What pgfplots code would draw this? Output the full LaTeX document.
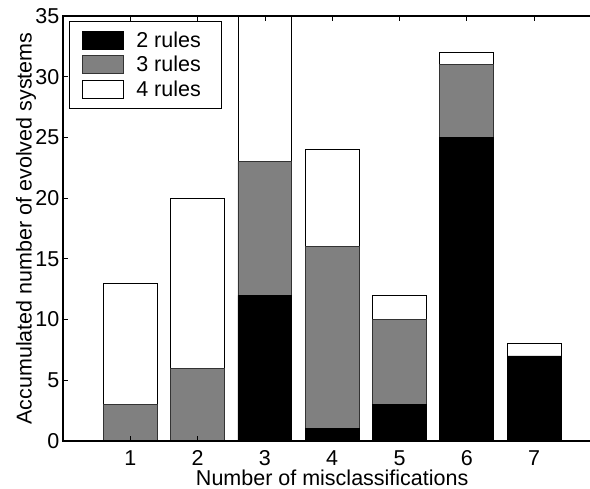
\documentclass[border=0pt]{standalone}
\usepackage{pgfplots}
\pgfplotsset{compat=1.18}
\usepackage{fontspec}
\setmainfont{Liberation Sans}
\begin{document}
\begin{tikzpicture}
\useasboundingbox (0,0) rectangle (590bp,489bp);
\begin{axis}[
  at={(63bp,48bp)}, anchor=south west,
  scale only axis, width=538.4bp, height=425bp,
  xmin=0, xmax=8, ymin=0, ymax=35,
  ybar stacked, bar width=0.8,
  axis on top,
  xtick={1,2,3,4,5,6,7}, ytick={0,5,10,15,20,25,30,35},
  tick align=inside, major tick length=5bp,
  axis line style={line width=1.2bp},
  every tick/.style={black, line width=0.8bp},
  font=\fontsize{21.5bp}{25bp}\selectfont,
  /pgf/number format/assume math mode=true,
  xticklabel style={anchor=base, inner sep=0pt, yshift=-24bp},
  yticklabel style={anchor=east, inner sep=0pt, xshift=-3.5bp},
  xlabel={Number of misclassifications},
  ylabel={Accumulated number of evolved systems},
  every axis x label/.style={at={(axis description cs:0.5,0)}, anchor=base, yshift=-44bp},
  every axis y label/.style={at={(axis description cs:-0.0585,0.5)}, rotate=90, anchor=base},
  legend cell align=left,
  legend style={at={(axis description cs:0,1)}, anchor=north west, xshift=6bp, yshift=-5bp,
    draw=black, line width=1bp, inner xsep=13bp, inner ysep=6.5bp, row sep=0pt,
    /tikz/every odd column/.style={column sep=13bp},
    nodes={inner sep=0pt, text height=19.25bp, text depth=5.25bp,
      font=\fontsize{21.5bp}{25bp}\selectfont}},
  legend image code/.code={\draw[#1, line width=0.8bp] (0bp,-9bp) rectangle (40bp,9bp);},
]
\addplot[fill=black, draw=black, line width=0.8bp] coordinates {(1,0) (2,0) (3,12) (4,1) (5,3) (6,25) (7,7)};
\addplot[fill=black!50, draw=black!80, line width=0.8bp] coordinates {(1,3) (2,6) (3,11) (4,15) (5,7) (6,6) (7,0)};
\addplot[fill=white, draw=black, line width=0.8bp] coordinates {(1,10) (2,14) (3,13) (4,8) (5,2) (6,1) (7,1)};
\legend{2 rules\hspace*{8bp}, 3 rules\hspace*{8bp}, 4 rules\hspace*{8bp}}
\end{axis}
\end{tikzpicture}
\end{document}
